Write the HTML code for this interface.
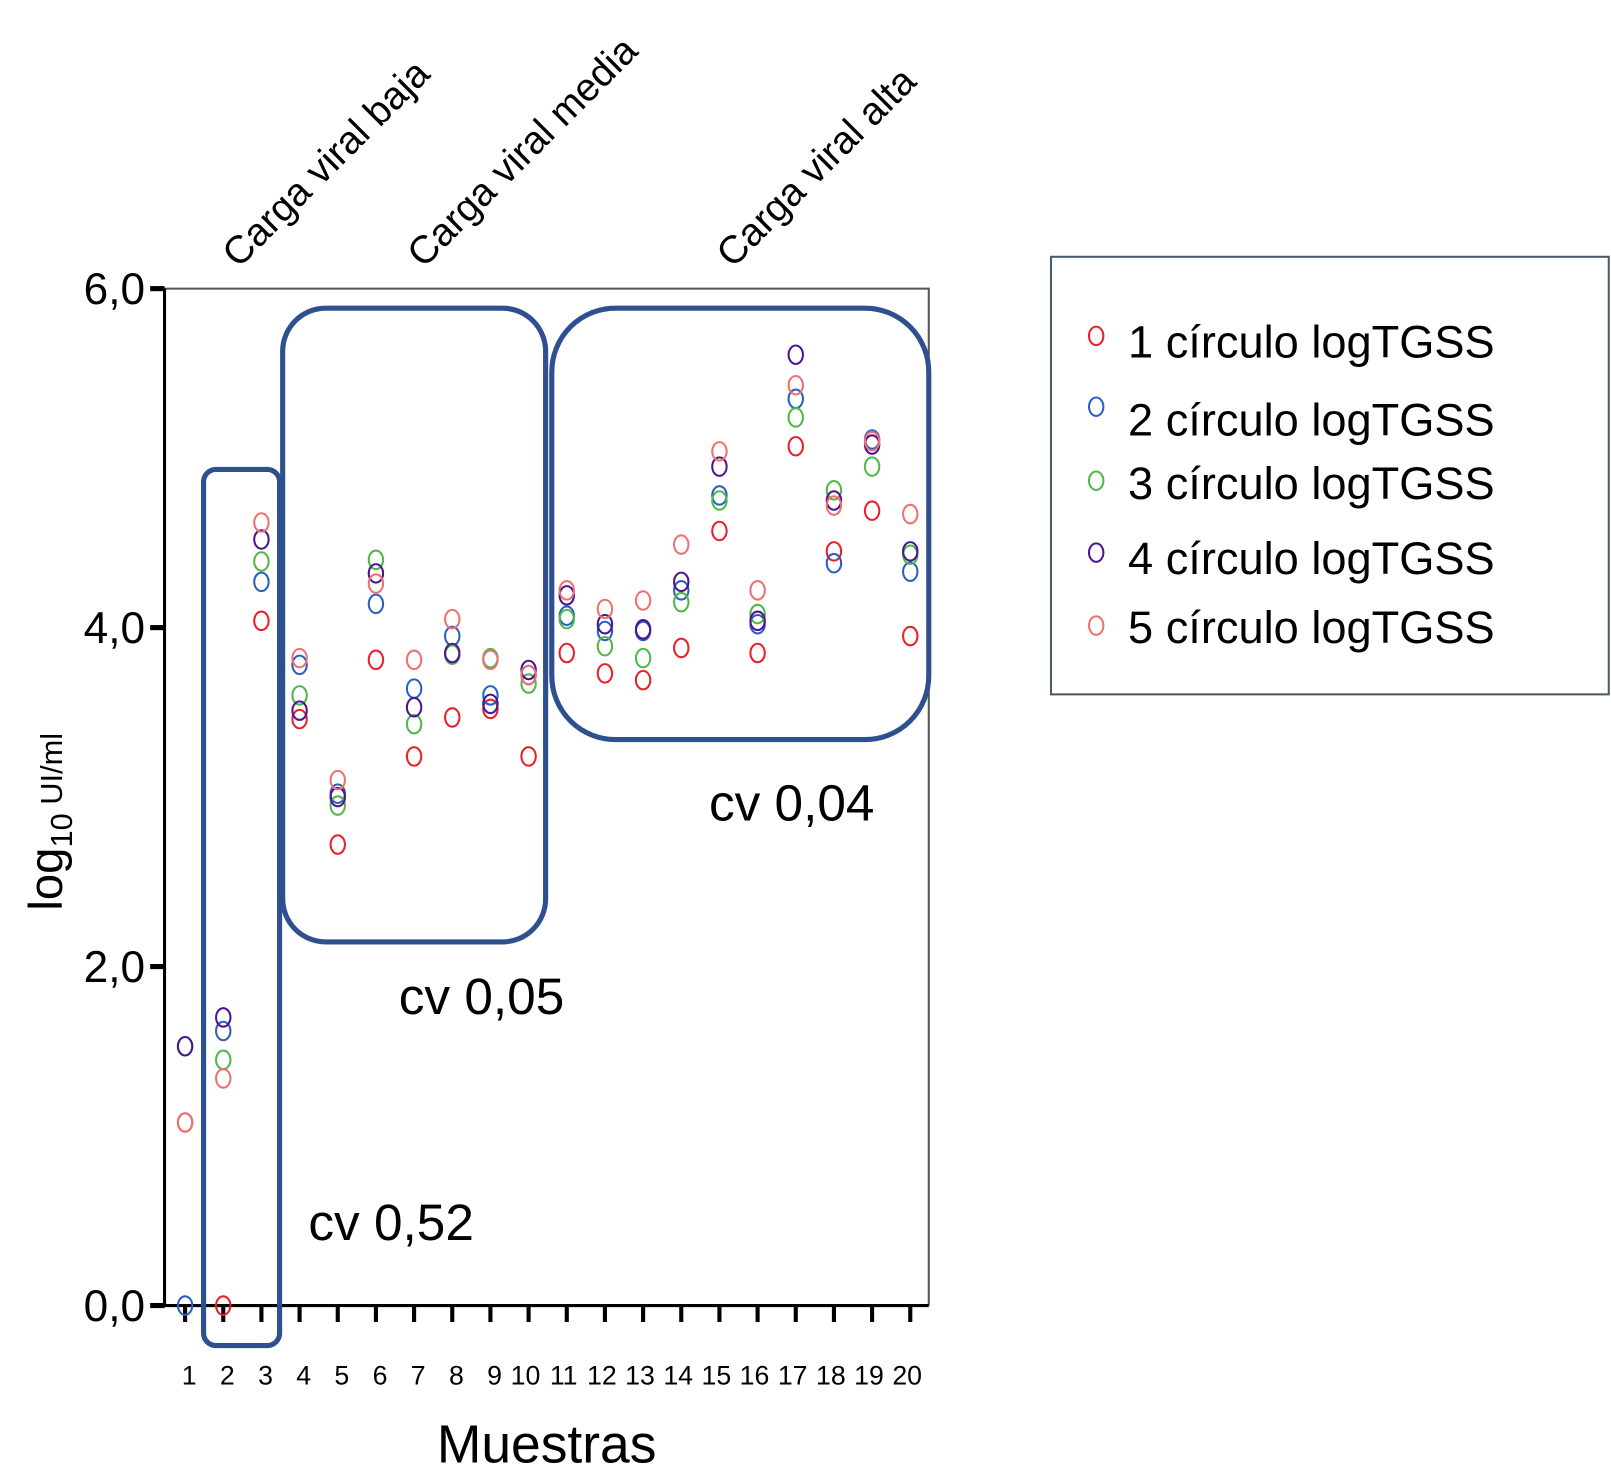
<!DOCTYPE html>
<html><head><meta charset="utf-8"><style>
html,body{margin:0;padding:0;background:#fff}
svg{display:block}
text{font-family:"Liberation Sans",Arial,sans-serif;fill:#000}
</style></head><body>
<svg id="chart" width="1611" height="1474" viewBox="0 0 1568 1435" xmlns="http://www.w3.org/2000/svg">
<g id="plot"></g>
</svg>
<script>
const samples = [1,2,3,4,5,6,7,8,9,10,11,12,13,14,15,16,17,18,19,20];
const s1 = [1.08,0,4.04,3.46,2.72,3.81,3.24,3.47,3.52,3.24,3.85,3.73,3.69,3.88,4.57,3.85,5.07,4.45,4.69,3.95];
const s2 = [0,1.62,4.27,3.78,3.02,4.14,3.64,3.95,3.60,3.72,4.07,3.98,3.98,4.22,4.78,4.02,5.35,4.38,5.11,4.33];
const s3 = [1.53,1.45,4.39,3.60,2.95,4.40,3.43,3.84,3.82,3.67,4.05,3.89,3.82,4.15,4.75,4.08,5.24,4.81,4.95,4.43];
const s4 = [1.53,1.70,4.52,3.51,3.00,4.32,3.53,3.85,3.55,3.75,4.19,4.02,3.99,4.27,4.95,4.04,5.61,4.75,5.08,4.45];
const s5 = [1.08,1.34,4.62,3.82,3.10,4.26,3.81,4.05,3.81,3.72,4.22,4.11,4.16,4.49,5.04,4.22,5.43,4.72,5.10,4.67];
const yTicks = [0,2,4,6];
const yTickLabels = ["0,0","2,0","4,0","6,0"];
const seriesNames = ["1 círculo logTGSS","2 círculo logTGSS","3 círculo logTGSS","4 círculo logTGSS","5 círculo logTGSS"];
const colors = ["#e8202a","#2a5fc0","#50b848","#4a1590","#f07070"];

const NS="http://www.w3.org/2000/svg";
const svg=document.getElementById('chart');
const X0=160,X1=904,Y0=1271,Y1=281;
const y=v=>Y0-(v/6)*(Y0-Y1);
const x=i=>180+(i-1)*(886-180)/19;
function el(tag,attrs,parent){const e=document.createElementNS(NS,tag);for(const k in attrs)e.setAttribute(k,attrs[k]);(parent||svg).appendChild(e);return e;}

let f=el('path',{d:`M${X0} ${Y1} H${X1} V${Y0}`,fill:'none',stroke:'#555','stroke-width':2});


let ya=el('line',{x1:X0,y1:Y1,x2:X0,y2:Y0+1,stroke:'#000','stroke-width':3});


let xa=el('line',{x1:X0,y1:Y0,x2:X1,y2:Y0,stroke:'#000','stroke-width':3});



yTicks.forEach((t,i)=>{
  let tk=el('line',{x1:146,x2:X0,y1:y(t),y2:y(t),stroke:'#000','stroke-width':5});
  
  
  let tl=el('text',{x:141,y:y(t)+15,'text-anchor':'end','font-size':43});
  tl.textContent=yTickLabels[i];
  
  
});
samples.forEach(s=>{
  let tk=el('line',{x1:x(s),x2:x(s),y1:Y0,y2:Y0+16,stroke:'#000','stroke-width':4});
  
  
  let tl=el('text',{x:x(s)+(s>=10?-3:4),y:1348,'text-anchor':'middle','font-size':26});
  tl.textContent=s;
  
  
});

[[198,457,74,853,12,'box-low'],[275,300,256,617,42,'box-medium'],[537,300,367,420,62,'box-high']].forEach(b=>{
  let r=el('rect',{x:b[0],y:b[1],width:b[2],height:b[3],rx:b[4],fill:'none',stroke:'#2e5090','stroke-width':5});
  
  
});

[s1,s2,s3,s4,s5].forEach((ser,k)=>{
  ser.forEach((v,i)=>{
    let c=el('ellipse',{cx:x(samples[i]),cy:y(v),rx:7,ry:9,fill:'none',stroke:colors[k],'stroke-width':2});
    
    
  });
});
</script>
<script>
(function(){
const NS="http://www.w3.org/2000/svg";const svg=document.getElementById('chart');
function t(txt,attrs,name){const e=document.createElementNS(NS,'text');for(const k in attrs)e.setAttribute(k,attrs[k]);e.textContent=txt;svg.appendChild(e);


return e;}
t('cv 0,52',{x:300,y:1207,'font-size':50},'cv-low-label');
t('cv 0,05',{x:388,y:987,'font-size':50},'cv-medium-label');
t('cv 0,04',{x:690,y:799,'font-size':50},'cv-high-label');
t('Muestras',{x:532,y:1424,'font-size':52,'text-anchor':'middle'},'x-axis-title');
const yt=t('',{transform:'translate(60,800) rotate(-90)','font-size':46,'text-anchor':'middle'},'y-axis-title');
yt.innerHTML='log<tspan font-size="30" dy="10">10</tspan><tspan font-size="30" dy="-10"> UI/ml</tspan>';
t('Carga viral baja',{transform:'translate(232,262) rotate(-45)','font-size':38},'category-label-low');
t('Carga viral media',{transform:'translate(412,262) rotate(-45)','font-size':38},'category-label-medium');
t('Carga viral alta',{transform:'translate(713,262) rotate(-45)','font-size':38},'category-label-high');
const lg=document.createElementNS(NS,'rect');
[['x',1023],['y',250],['width',543],['height',426],['fill','none'],['stroke','#4a5a6a'],['stroke-width',2]].forEach(a=>lg.setAttribute(a[0],a[1]));
svg.appendChild(lg);


const names=["1 círculo logTGSS","2 círculo logTGSS","3 círculo logTGSS","4 círculo logTGSS","5 círculo logTGSS"];
const cols=["#e8202a","#2a5fc0","#50b848","#4a1590","#f07070"];
const ly=[332,408,470,543,610],cy=[327,396,468,538,609];
names.forEach((n,i)=>{
  const c=document.createElementNS(NS,'ellipse');
  [['cx',1067],['cy',cy[i]],['rx',7],['ry',9],['fill','none'],['stroke',cols[i]],['stroke-width',2]].forEach(a=>c.setAttribute(a[0],a[1]));
  svg.appendChild(c);
  
  
  t(n,{x:1098,y:ly[i]+16,'font-size':44},'legend-entry');
});
})();
</script>
</body></html>
